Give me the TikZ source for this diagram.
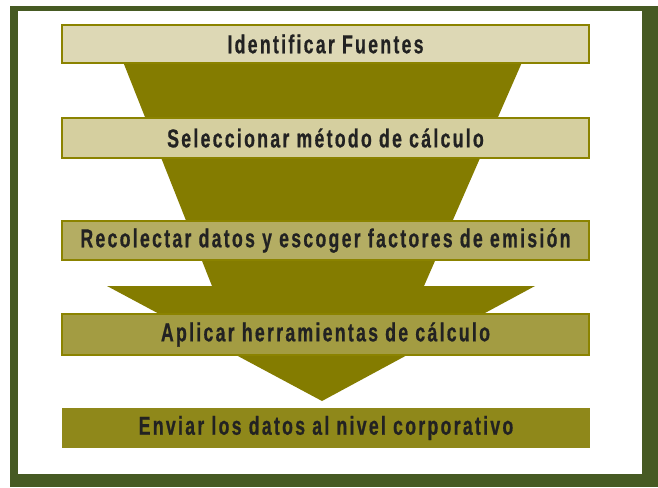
\documentclass[tikz,border=0pt]{standalone}
\usepackage{fontspec}
\newfontfamily\condfont{Liberation Sans}[FakeStretch=0.68,LetterSpace=8.8,FakeBold=0.6]
\definecolor{framegreen}{HTML}{465A23}
\definecolor{funnelolive}{HTML}{847C00}
\definecolor{boxborder}{HTML}{8B8300}
\definecolor{fillA}{HTML}{DDD8B5}
\definecolor{fillB}{HTML}{D5CF9F}
\definecolor{fillC}{HTML}{B4AD63}
\definecolor{fillD}{HTML}{A39C42}
\definecolor{fillE}{HTML}{8F881A}
\definecolor{textdark}{HTML}{222222}
\tikzset{
  stepbox/.style={draw=boxborder, line width=2pt, minimum width=527pt, inner sep=0pt,
    text=textdark, font=\condfont\bfseries\fontsize{26}{30}\selectfont},
  lastbox/.style={stepbox, draw=none, minimum width=528pt}
}
\begin{document}
\begin{tikzpicture}[x=1pt,y=-1pt]
\useasboundingbox (0,0) rectangle (658,487);
% frame
\fill[framegreen] (10,6) rectangle (658,487);
\fill[white] (18,11) rectangle (642,474);
% funnel
\coordinate (ftl) at (116,44);
\coordinate (ftr) at (530,44);
\coordinate (fml) at (212,286);
\coordinate (fmr) at (424,286);
\coordinate (fwl) at (107,286);
\coordinate (fwr) at (535,286);
\coordinate (ftip) at (322,401);
\fill[funnelolive] (ftl) -- (ftr) -- (fmr) -- (fwr) -- (ftip) -- (fwl) -- (fml) -- cycle;
% boxes
\node[stepbox, fill=fillA, minimum height=38pt] (b1) at (325.5,44) {Identificar Fuentes};
\node[stepbox, fill=fillB, minimum height=40pt] (b2) at (325.5,138) {Seleccionar método de cálculo};
\node[stepbox, fill=fillC, minimum height=39pt] (b3) at (325.5,240.5) {Recolectar datos y escoger factores de emisión};
\node[stepbox, fill=fillD, minimum height=41pt] (b4) at (325.5,334.5) {Aplicar herramientas de cálculo};
\node[lastbox, fill=fillE, minimum height=40pt] (b5) at (326,428) {Enviar los datos al nivel corporativo};
\end{tikzpicture}
\end{document}
